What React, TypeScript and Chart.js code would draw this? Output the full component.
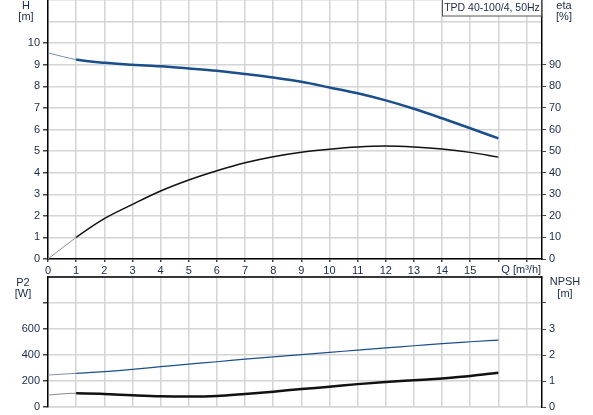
import { useEffect, useRef } from 'react';
import { Chart, registerables } from 'chart.js';
import type { Plugin, Scale } from 'chart.js';

Chart.register(...registerables);

// Q [m³/h]
const flow = [0, 1, 2, 3, 4, 5, 6, 7, 8, 9, 10, 11, 12, 13, 14, 15, 16];
// H [m]
const head = [9.55, 9.24, 9.09, 9.0, 8.93, 8.83, 8.72, 8.57, 8.41, 8.21, 7.95, 7.68, 7.35, 6.96, 6.52, 6.06, 5.59];
// eta [%]
const eta = [0, 10, 18.7, 25.3, 31.5, 36.6, 40.9, 44.6, 47.4, 49.5, 50.9, 51.9, 52.3, 51.9, 51.0, 49.4, 47.2];
// P2 [W]
const p2 = [246, 259, 272, 290, 310, 330, 348, 368, 386, 403, 420, 438, 455, 471, 488, 502, 515];
// NPSH [m]
const npsh = [0.46, 0.53, 0.5, 0.45, 0.41, 0.4, 0.42, 0.5, 0.59, 0.69, 0.78, 0.88, 0.96, 1.03, 1.1, 1.19, 1.32];

const title = 'TPD 40-100/4, 50Hz';

const BLUE = '#1a4f8b';
const TEXT = '#1b2a48';
const GRID = '#d4d4d4';
const TICK = '#444';
const FONT = '"Liberation Sans", Arial, sans-serif';
const font = { family: FONT, size: 11 };

function pts(ys: number[]) {
  return flow.map((x, i) => ({ x, y: ys[i] }));
}

function lineDs(label: string, ys: number[], axis: string, color: string, width: number, faint: string) {
  return {
    label,
    data: pts(ys),
    yAxisID: axis,
    borderColor: color,
    borderWidth: width,
    pointRadius: 0,
    cubicInterpolationMode: 'monotone',
    segment: {
      borderColor: (c: any) => (c.p0DataIndex === 0 ? faint : color),
      borderWidth: (c: any) => (c.p0DataIndex === 0 ? 1 : width),
    },
  };
}

const fitY = (w: number) => (s: Scale) => {
  s.width = w;
  (s as any).paddingTop = 0;
  (s as any).paddingBottom = 0;
};
const fitX = (h: number) => (s: Scale) => {
  s.height = h;
  (s as any).paddingLeft = 0;
  (s as any).paddingRight = 0;
};

const tickShown = (limit: number) => (c: any) =>
  c.tick && c.tick.value <= limit ? TICK : 'rgba(0,0,0,0)';

function label2(ctx: CanvasRenderingContext2D, a: string, b: string, x: number, y1: number, y2: number) {
  ctx.fillText(a, x, y1);
  ctx.fillText(b, x, y2);
}

const topDecor: Plugin = {
  id: 'topDecor',
  afterDraw(chart) {
    const ctx = chart.ctx;
    ctx.save();
    ctx.font = `11px ${FONT}`;
    ctx.fillStyle = TEXT;
    ctx.textBaseline = 'middle';
    ctx.textAlign = 'center';
    label2(ctx, 'H', '[m]', 26, 6, 17);
    label2(ctx, 'eta', '[%]', 564, 6, 17);
    ctx.textAlign = 'left';
    ctx.fillText('Q [m³/h]', chart.scales.x.getPixelForValue(16) + 3, 270);
    // title box
    ctx.fillStyle = '#fff';
    ctx.fillRect(442, 0, 100, 16);
    ctx.strokeStyle = '#555';
    ctx.lineWidth = 1;
    ctx.strokeRect(442.5, -0.5, 99, 16.5);
    ctx.fillStyle = TEXT;
    ctx.textAlign = 'center';
    ctx.font = `10.5px ${FONT}`;
    ctx.fillText(title, 492, 8);
    ctx.restore();
  },
};

const bottomDecor: Plugin = {
  id: 'bottomDecor',
  afterDraw(chart) {
    const ctx = chart.ctx;
    const a = chart.chartArea;
    ctx.save();
    ctx.strokeStyle = '#000';
    ctx.lineWidth = 1.5;
    ctx.beginPath();
    ctx.moveTo(a.left, a.top);
    ctx.lineTo(a.right, a.top);
    ctx.stroke();
    ctx.font = `11px ${FONT}`;
    ctx.fillStyle = TEXT;
    ctx.textBaseline = 'middle';
    ctx.textAlign = 'center';
    label2(ctx, 'P2', '[W]', 23, 8, 19);
    label2(ctx, 'NPSH', '[m]', 565, 7, 19);
    ctx.restore();
  },
};

export default function App() {
  const topRef = useRef<HTMLCanvasElement>(null);
  const botRef = useRef<HTMLCanvasElement>(null);

  useEffect(() => {
    document.body.style.margin = '0';
    if (!topRef.current || !botRef.current) return;

    const top = new Chart(topRef.current, {
      type: 'line',
      data: {
        datasets: [
          lineDs('eta', eta, 'yEta', '#111', 1.5, '#8a8a8a') as any,
          lineDs('H', head, 'y', BLUE, 2.5, '#7890ad') as any,
        ],
      },
      options: {
        responsive: false,
        animation: false,
        layout: { padding: 0 },
        plugins: { legend: { display: false }, tooltip: { enabled: false } },
        scales: {
          x: {
            type: 'linear',
            min: 0,
            max: 17.55,
            afterFit: fitX(18),
            ticks: {
              stepSize: 1,
              includeBounds: false,
              autoSkip: false,
              maxRotation: 0,
              padding: 2,
              color: TEXT,
              font,
              callback: (v: any) => (v <= 15 ? String(v) : ''),
            },
            grid: { color: GRID, lineWidth: 1.5, tickLength: 3, tickColor: TICK },
            border: { color: '#000', width: 1.5 },
          },
          y: {
            position: 'left',
            min: 0,
            max: 12,
            afterFit: fitY(48),
            ticks: {
              stepSize: 1,
              padding: 3,
              color: TEXT,
              font,
              callback: (v: any) => (v <= 10 ? String(v) : ''),
            },
            grid: { color: GRID, lineWidth: 1.5, tickLength: 5, tickColor: tickShown(10) },
            border: { color: '#000', width: 1.5 },
          },
          yEta: {
            position: 'right',
            min: 0,
            max: 120,
            afterFit: fitY(51),
            ticks: {
              stepSize: 10,
              padding: 3,
              color: TEXT,
              font,
              callback: (v: any) => (v <= 90 ? String(v) : ''),
            },
            grid: { drawOnChartArea: false, tickLength: 4, tickColor: tickShown(90) },
            border: { color: '#000', width: 1.5 },
          },
        },
      },
      plugins: [topDecor],
    });

    const bottom = new Chart(botRef.current, {
      type: 'line',
      data: {
        datasets: [
          lineDs('NPSH', npsh, 'yR', '#111', 2.5, '#8a8a8a') as any,
          lineDs('P2', p2, 'y', BLUE, 1.2, '#7890ad') as any,
        ],
      },
      options: {
        responsive: false,
        animation: false,
        layout: { padding: { top: 2, left: 0, right: 0, bottom: 0 } },
        plugins: { legend: { display: false }, tooltip: { enabled: false } },
        scales: {
          x: {
            type: 'linear',
            min: 0,
            max: 17.55,
            afterFit: fitX(8),
            ticks: { stepSize: 1, includeBounds: false, display: false },
            grid: { color: GRID, lineWidth: 1.5, drawTicks: false },
            border: { color: GRID, width: 1.5 },
          },
          y: {
            position: 'left',
            min: 0,
            max: 1000,
            afterFit: fitY(48),
            ticks: {
              stepSize: 200,
              padding: 3,
              color: TEXT,
              font,
              callback: (v: any) => (v <= 600 ? String(v) : ''),
            },
            grid: { color: GRID, lineWidth: 1.5, tickLength: 5, tickColor: tickShown(800) },
            border: { color: '#000', width: 1.5 },
          },
          yR: {
            position: 'right',
            min: 0,
            max: 5,
            afterFit: fitY(51),
            ticks: {
              stepSize: 1,
              padding: 3,
              color: TEXT,
              font,
              callback: (v: any) => (v <= 3 ? String(v) : ''),
            },
            grid: { drawOnChartArea: false, tickLength: 4, tickColor: tickShown(4) },
            border: { color: '#000', width: 1.5 },
          },
        },
      },
      plugins: [bottomDecor],
    });

    return () => {
      top.destroy();
      bottom.destroy();
    };
  }, []);

  return (
    <div style={{ position: 'relative', width: 593, height: 415, background: '#fff' }}>
      <canvas ref={topRef} width={593} height={277} style={{ position: 'absolute', left: 0, top: 0 }} />
      <canvas ref={botRef} width={593} height={140} style={{ position: 'absolute', left: 0, top: 275 }} />
    </div>
  );
}
